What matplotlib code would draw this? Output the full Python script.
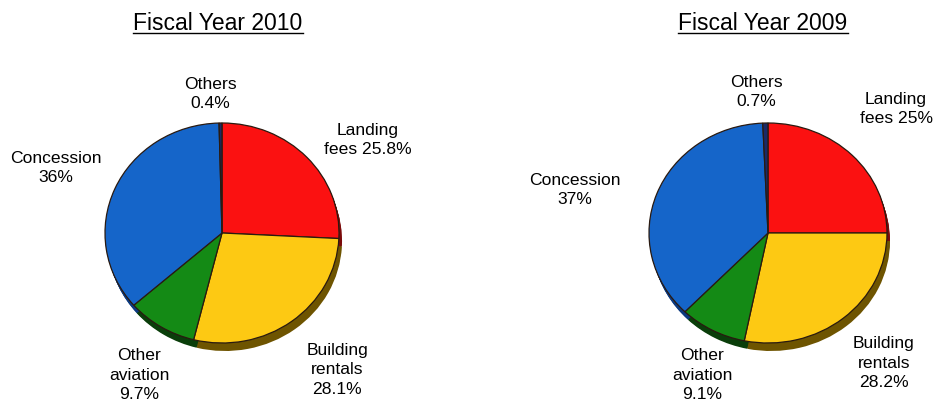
import matplotlib.pyplot as plt
from matplotlib.lines import Line2D

plt.rcParams['font.family'] = ['Liberation Sans', 'DejaVu Sans']

# revenue split, clockwise from 12 o'clock
categories = ['Landing fees', 'Building rentals', 'Other aviation', 'Concession', 'Others']
share_2010 = [25.8, 28.1, 9.7, 36, 0.4]
share_2009 = [25, 28.2, 9.1, 37, 0.7]
years = ['2010', '2009']

face_colors = ['#fb1111', '#fdc913', '#148a15', '#1565c9', '#1b2a66']
side_colors = ['#7a0a0a', '#6e5400', '#0a3e0a', '#0c3a80', '#0d1635']

# text label line breaks per slice
label_text = {
    'Landing fees': 'Landing\nfees {}%',
    'Building rentals': 'Building\nrentals\n{}%',
    'Other aviation': 'Other\naviation\n{}%',
    'Concession': 'Concession\n{}%',
    'Others': 'Others\n{}%',
}

W, H = 933, 404
fig = plt.figure(figsize=(W / 100, H / 100), dpi=100)

# pie centre / radii in pixels, label anchors in pixels (from top-left)
pies = [
    dict(cx=222, cy=233, rx=117, ry=110, title_x=218,
         labels={'Landing fees': (368, 140), 'Building rentals': (337, 370),
                 'Other aviation': (139, 375), 'Concession': (56, 168),
                 'Others': (210, 94)}),
    dict(cx=768, cy=233, rx=119, ry=110, title_x=763,
         labels={'Landing fees': (896, 109), 'Building rentals': (884, 363),
                 'Other aviation': (702, 375), 'Concession': (575, 190),
                 'Others': (756, 92)}),
]

L = 1.2
fig.canvas.draw()
renderer = fig.canvas.get_renderer()

for year, shares, p in zip(years, [share_2010, share_2009], pies):
    w = 2 * L * p['rx']
    h = 2 * L * p['ry']
    left = p['cx'] - w / 2
    bottom = (H - p['cy']) - h / 2
    ax = fig.add_axes([left / W, bottom / H, w / W, h / H])

    # extruded side of the disc
    dx, dy = 3 / p['rx'], -8 / p['ry']
    for k in range(1, 9):
        f = k / 8
        ax.pie(shares, colors=side_colors, startangle=90, counterclock=False,
               center=(dx * f, dy * f), wedgeprops=dict(linewidth=0))
    ax.pie(shares, colors=face_colors, startangle=90, counterclock=False,
           wedgeprops=dict(edgecolor='#2a1a10', linewidth=0.9))
    ax.set_aspect('auto')
    ax.set_xlim(-L, L)
    ax.set_ylim(-L, L)
    ax.axis('off')

    for cat, v in zip(categories, shares):
        x, y = p['labels'][cat]
        fig.text(x / W, 1 - y / H, label_text[cat].format(f'{v:g}'),
                 ha='center', va='center', fontsize=12.6, linespacing=1.4)

    t = fig.text(p['title_x'] / W, 1 - 23 / H, f'Fiscal Year {year}',
                 ha='center', va='center', fontsize=16.5)
    bb = t.get_window_extent(renderer=renderer)
    uy = (H - 33) / H
    fig.add_artist(Line2D([bb.x0 / W, bb.x1 / W], [uy, uy],
                          color='black', linewidth=1.0, transform=fig.transFigure))

fig.savefig('out.png', dpi=100)
